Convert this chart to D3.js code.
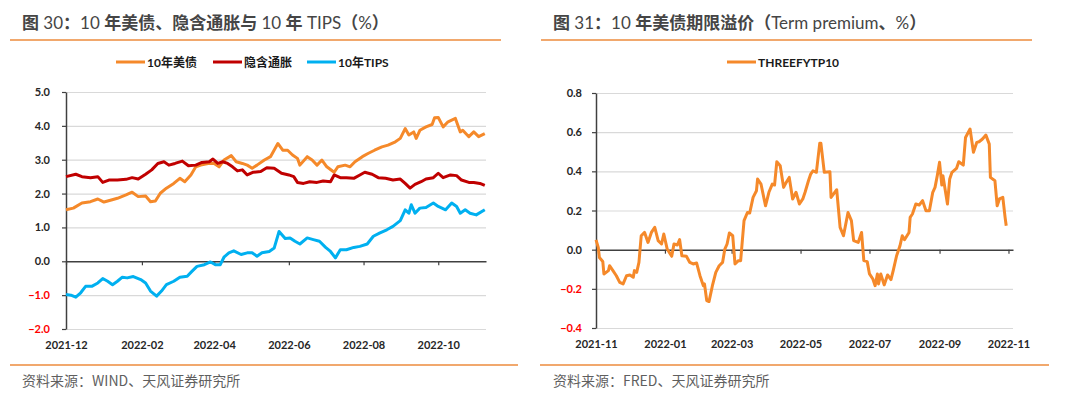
<!DOCTYPE html>
<html>
<head>
<meta charset="utf-8">
<script src="https://cdn.jsdelivr.net/npm/d3@7"></script>
<style>
    html, body { margin: 0; padding: 0; background: #fff; }
    svg { display: block; }
    .title { font-family: Lato, "Noto Sans CJK SC", sans-serif; font-size: 17px; fill: #454545; }
    .title .cjk { font-family: "Noto Sans CJK SC", sans-serif; font-weight: bold; }
    .source { font-family: "Noto Sans CJK SC", sans-serif; font-size: 14px; fill: #5f5f5f; }
    .legend { font-family: Lato, "Noto Sans CJK SC", sans-serif; font-size: 12px; font-weight: bold; fill: #1a1a1a; }
    .axis text { font-family: Lato, "Noto Sans", sans-serif; font-size: 11px; font-weight: bold; fill: #262626; }
</style>
</head>
<body>
<svg id="chart" width="1080" height="398"></svg>
<script>
// ---- data ----
var nominal10y = [
    ["2021-12-01",1.52],["2021-12-07",1.57],["2021-12-14",1.72],["2021-12-21",1.76],["2021-12-27",1.84],
    ["2022-01-01",1.75],["2022-01-07",1.81],["2022-01-12",1.86],["2022-01-19",1.96],["2022-01-24",2.04],
    ["2022-01-29",1.91],["2022-02-04",1.93],["2022-02-08",1.76],["2022-02-12",1.78],["2022-02-16",2.01],
    ["2022-02-21",2.16],["2022-02-27",2.30],["2022-03-04",2.45],["2022-03-08",2.35],["2022-03-13",2.55],
    ["2022-03-17",2.79],["2022-03-21",2.84],["2022-03-27",2.89],["2022-04-01",2.89],["2022-04-05",2.79],
    ["2022-04-09",2.99],["2022-04-15",3.12],["2022-04-19",2.94],["2022-04-24",2.89],["2022-04-28",2.84],
    ["2022-05-02",2.75],["2022-05-06",2.84],["2022-05-12",2.99],["2022-05-17",3.09],["2022-05-23",3.48],
    ["2022-05-27",3.28],["2022-05-31",3.28],["2022-06-04",3.14],["2022-06-08",3.04],["2022-06-10",2.84],
    ["2022-06-16",3.09],["2022-06-20",2.99],["2022-06-24",2.84],["2022-06-28",2.99],["2022-07-02",2.79],
    ["2022-07-08",2.63],["2022-07-11",2.79],["2022-07-17",2.84],["2022-07-21",2.79],["2022-07-25",2.94],
    ["2022-07-31",3.09],["2022-08-05",3.19],["2022-08-10",3.28],["2022-08-16",3.38],["2022-08-21",3.43],
    ["2022-08-27",3.53],["2022-08-31",3.63],["2022-09-04",3.92],["2022-09-07",3.73],["2022-09-11",3.82],
    ["2022-09-13",3.63],["2022-09-16",3.87],["2022-09-21",3.97],["2022-09-26",4.04],["2022-09-28",4.24],
    ["2022-10-01",4.25],["2022-10-05",3.97],["2022-10-09",4.12],["2022-10-15",4.22],["2022-10-19",3.82],
    ["2022-10-21",3.87],["2022-10-26",3.68],["2022-10-30",3.82],["2022-11-03",3.68],["2022-11-08",3.77]
];
var breakeven10y = [
    ["2021-12-01",2.50],["2021-12-09",2.57],["2021-12-14",2.50],["2021-12-21",2.47],["2021-12-27",2.50],
    ["2021-12-31",2.33],["2022-01-05",2.40],["2022-01-12",2.40],["2022-01-19",2.42],["2022-01-24",2.47],
    ["2022-01-29",2.43],["2022-02-04",2.57],["2022-02-09",2.70],["2022-02-14",2.89],["2022-02-19",2.94],
    ["2022-02-23",2.84],["2022-02-28",2.89],["2022-03-06",2.96],["2022-03-11",2.82],["2022-03-17",2.84],
    ["2022-03-22",2.92],["2022-03-28",2.94],["2022-03-31",3.02],["2022-04-04",2.89],["2022-04-08",2.94],
    ["2022-04-12",2.89],["2022-04-16",2.79],["2022-04-20",2.67],["2022-04-24",2.70],["2022-04-28",2.55],
    ["2022-05-03",2.63],["2022-05-09",2.65],["2022-05-14",2.76],["2022-05-20",2.75],["2022-05-26",2.60],
    ["2022-06-01",2.55],["2022-06-05",2.50],["2022-06-08",2.33],["2022-06-13",2.30],["2022-06-18",2.35],
    ["2022-06-24",2.33],["2022-06-29",2.37],["2022-07-05",2.35],["2022-07-08",2.55],["2022-07-13",2.47],
    ["2022-07-18",2.47],["2022-07-24",2.45],["2022-07-29",2.55],["2022-08-02",2.63],["2022-08-08",2.57],
    ["2022-08-13",2.47],["2022-08-19",2.45],["2022-08-25",2.40],["2022-08-31",2.43],["2022-09-04",2.30],
    ["2022-09-08",2.16],["2022-09-12",2.27],["2022-09-17",2.35],["2022-09-21",2.43],["2022-09-27",2.47],
    ["2022-10-01",2.60],["2022-10-05",2.47],["2022-10-11",2.55],["2022-10-16",2.53],["2022-10-20",2.40],
    ["2022-10-26",2.33],["2022-10-30",2.33],["2022-11-04",2.30],["2022-11-08",2.24]
];
var tips10y = [
    ["2021-12-01",-0.98],["2021-12-05",-1.00],["2021-12-09",-1.06],["2021-12-13",-0.93],["2021-12-17",-0.74],
    ["2021-12-22",-0.74],["2021-12-27",-0.64],["2021-12-31",-0.51],["2022-01-04",-0.59],["2022-01-08",-0.69],
    ["2022-01-12",-0.59],["2022-01-16",-0.47],["2022-01-20",-0.49],["2022-01-25",-0.45],["2022-01-31",-0.54],
    ["2022-02-04",-0.64],["2022-02-08",-0.88],["2022-02-13",-1.03],["2022-02-17",-0.88],["2022-02-21",-0.69],
    ["2022-02-27",-0.59],["2022-03-04",-0.47],["2022-03-10",-0.44],["2022-03-14",-0.29],["2022-03-18",-0.15],
    ["2022-03-24",-0.10],["2022-03-29",-0.02],["2022-04-02",-0.10],["2022-04-06",-0.10],["2022-04-09",0.12],
    ["2022-04-13",0.25],["2022-04-17",0.31],["2022-04-23",0.20],["2022-04-28",0.25],["2022-05-02",0.25],
    ["2022-05-06",0.15],["2022-05-10",0.25],["2022-05-16",0.29],["2022-05-20",0.39],["2022-05-24",0.88],
    ["2022-05-29",0.67],["2022-06-02",0.69],["2022-06-06",0.59],["2022-06-10",0.51],["2022-06-16",0.69],
    ["2022-06-21",0.64],["2022-06-26",0.59],["2022-07-01",0.41],["2022-07-05",0.29],["2022-07-09",0.10],
    ["2022-07-13",0.34],["2022-07-18",0.34],["2022-07-24",0.41],["2022-07-29",0.44],["2022-08-04",0.51],
    ["2022-08-09",0.74],["2022-08-14",0.83],["2022-08-20",0.93],["2022-08-25",1.03],["2022-08-31",1.20],
    ["2022-09-04",1.52],["2022-09-07",1.42],["2022-09-09",1.67],["2022-09-12",1.42],["2022-09-16",1.57],
    ["2022-09-21",1.59],["2022-09-27",1.72],["2022-10-01",1.62],["2022-10-07",1.52],["2022-10-12",1.72],
    ["2022-10-16",1.62],["2022-10-19",1.42],["2022-10-23",1.52],["2022-10-27",1.42],["2022-11-01",1.37],
    ["2022-11-08",1.52]
];
var termPremium = [
    ["2021-11-01",0.05],["2021-11-03",0.012],["2021-11-04",-0.04],["2021-11-07",-0.06],["2021-11-08",-0.124],
    ["2021-11-12",-0.107],["2021-11-13",-0.082],["2021-11-16",-0.107],["2021-11-19",-0.133],["2021-11-22",-0.167],
    ["2021-11-25",-0.175],["2021-11-28",-0.133],["2021-12-01",-0.129],["2021-12-04",-0.141],["2021-12-05",-0.107],
    ["2021-12-07",-0.116],["2021-12-09",-0.065],["2021-12-11",0.071],["2021-12-14",0.088],["2021-12-17",0.037],
    ["2021-12-20",0.088],["2021-12-23",0.114],["2021-12-26",0.046],["2021-12-29",0.029],["2021-12-31",0.080],
    ["2022-01-03",0.003],["2022-01-07",-0.034],["2022-01-09",0.029],["2022-01-12",0.024],["2022-01-14",0.051],
    ["2022-01-16",-0.031],["2022-01-20",-0.034],["2022-01-23",-0.065],["2022-01-26",-0.073],["2022-01-29",-0.068],
    ["2022-02-01",-0.133],["2022-02-04",-0.184],["2022-02-05",-0.175],["2022-02-07",-0.260],["2022-02-09",-0.265],
    ["2022-02-12",-0.184],["2022-02-15",-0.116],["2022-02-18",-0.082],["2022-02-21",-0.065],["2022-02-23",0.003],
    ["2022-02-25",0.029],["2022-02-27",0.085],["2022-03-02",0.071],["2022-03-04",-0.073],["2022-03-07",-0.056],
    ["2022-03-09",-0.056],["2022-03-12",0.148],["2022-03-15",0.190],["2022-03-17",0.187],["2022-03-20",0.267],
    ["2022-03-23",0.301],["2022-03-24",0.361],["2022-03-27",0.335],["2022-03-31",0.224],["2022-04-03",0.293],
    ["2022-04-06",0.335],["2022-04-08",0.330],["2022-04-10",0.449],["2022-04-13",0.429],["2022-04-16",0.318],
    ["2022-04-18",0.340],["2022-04-21",0.369],["2022-04-24",0.259],["2022-04-27",0.293],["2022-04-30",0.233],
    ["2022-05-03",0.259],["2022-05-05",0.293],["2022-05-08",0.352],["2022-05-10",0.386],["2022-05-12",0.403],
    ["2022-05-15",0.395],["2022-05-18",0.544],["2022-05-19",0.544],["2022-05-22",0.395],["2022-05-27",0.398],
    ["2022-05-28",0.267],["2022-06-02",0.306],["2022-06-05",0.114],["2022-06-08",0.071],["2022-06-12",0.190],
    ["2022-06-15",0.148],["2022-06-17",0.046],["2022-06-21",0.037],["2022-06-24",0.088],["2022-06-26",-0.056],
    ["2022-06-29",-0.061],["2022-07-01",-0.124],["2022-07-04",-0.150],["2022-07-06",-0.184],["2022-07-08",-0.124],
    ["2022-07-09",-0.175],["2022-07-11",-0.124],["2022-07-14",-0.180],["2022-07-17",-0.129],["2022-07-20",-0.153],
    ["2022-07-22",-0.107],["2022-07-25",-0.031],["2022-07-28",0.020],["2022-07-30",0.071],["2022-08-01",0.051],
    ["2022-08-05",0.088],["2022-08-06",0.165],["2022-08-08",0.182],["2022-08-11",0.233],["2022-08-14",0.228],
    ["2022-08-17",0.250],["2022-08-20",0.199],["2022-08-23",0.199],["2022-08-26",0.293],["2022-08-28",0.318],
    ["2022-08-30",0.378],["2022-09-01",0.446],["2022-09-03",0.330],["2022-09-04",0.378],["2022-09-08",0.233],
    ["2022-09-10",0.361],["2022-09-12",0.395],["2022-09-16",0.415],["2022-09-18",0.449],["2022-09-22",0.432],
    ["2022-09-24",0.573],["2022-09-28",0.616],["2022-10-01",0.497],["2022-10-04",0.548],["2022-10-06",0.551],
    ["2022-10-09",0.565],["2022-10-12",0.585],["2022-10-15",0.539],["2022-10-16",0.369],["2022-10-20",0.352],
    ["2022-10-22",0.224],["2022-10-24",0.259],["2022-10-27",0.267],["2022-10-29",0.165],["2022-10-30",0.122]
];

// tick labels
var leftTicksY = [-2, -1, 0, 1, 2, 3, 4, 5];
var leftTicksX = ["2021-12", "2022-02", "2022-04", "2022-06", "2022-08", "2022-10"];
var rightTicksY = [-0.4, -0.2, 0, 0.2, 0.4, 0.6, 0.8];
var rightTicksX = ["2021-11", "2022-01", "2022-03", "2022-05", "2022-07", "2022-09", "2022-11"];

var ORANGE = "#F5892A", RED = "#C00000", BLUE = "#00B0F0", RULE = "#ED8B3C";

var parseDay = d3.timeParse("%Y-%m-%d");
var parseMonth = d3.timeParse("%Y-%m");
var svg = d3.select("#chart");

/**
 * Writes a title, CJK runs in bold and latin runs in regular weight
 * @param g - parent selection
 * @param x - left of text
 * @param s - title string
 */
function drawTitle(g, x, s) {
    var t = g.append("text").attr("class", "title").attr("x", x).attr("y", 29);
    s.split(/([\u3000-\u9fff\uff00-\uffef]+)/).forEach(function (part) {
        if (!part) { return; }
        t.append("tspan")
            .attr("class", /[\u3000-\u9fff\uff00-\uffef]/.test(part) ? "cjk" : null)
            .text(part);
    });
}

/**
 * Draws one panel: title, rule lines, legend, axes, gridlines, series and source
 * @param cfg - panel settings
 */
function drawPanel(cfg) {
    var g = svg.append("g");

    // title and orange rules
    drawTitle(g, cfg.titleX, cfg.title);
    g.append("line").attr("x1", cfg.ruleTop[0]).attr("x2", cfg.ruleTop[1])
        .attr("y1", 40).attr("y2", 40).attr("stroke", RULE).attr("stroke-width", 1.5);
    g.append("line").attr("x1", cfg.ruleBottom[0]).attr("x2", cfg.ruleBottom[1])
        .attr("y1", 365).attr("y2", 365).attr("stroke", RULE).attr("stroke-width", 1.5);
    g.append("text").attr("class", "source").attr("x", cfg.titleX).attr("y", 386).text(cfg.source);

    var x = d3.scaleTime().domain(cfg.xDomain).range([cfg.left, cfg.right]);
    var y = d3.scaleLinear().domain(cfg.yDomain).range([cfg.bottom, cfg.top]);
    var width = cfg.right - cfg.left;
    var fmt = d3.format(".1f");

    // gridlines (zero line is drawn as the axis)
    g.append("g")
        .attr("transform", "translate(" + cfg.left + ",0)")
        .call(d3.axisLeft(y).tickValues(cfg.yTicks.filter(function (v) { return v !== 0; }))
            .tickSize(-width).tickFormat(""))
        .call(function (s) {
            s.select(".domain").remove();
            s.selectAll("line").attr("stroke", "#d9d9d9").attr("stroke-width", 1.2);
        });

    // y axis
    g.append("g")
        .attr("class", "axis")
        .attr("transform", "translate(" + cfg.left + ",0)")
        .call(d3.axisLeft(y).tickValues(cfg.yTicks).tickSize(4).tickPadding(cfg.yPad).tickSizeOuter(0)
            .tickFormat(fmt))
        .call(function (s) {
            s.select(".domain").attr("stroke", "#404040").attr("stroke-width", 1.5);
            s.selectAll("line").attr("stroke", "#404040").attr("stroke-width", 1.2);
            s.selectAll("text").style("fill", function (v) { return v < 0 ? "#FF0000" : "#262626"; });
        });

    var monthTicks = cfg.xTicks.map(parseMonth);

    // zero axis with month ticks
    g.append("g")
        .attr("class", "axis")
        .attr("transform", "translate(0," + y(0) + ")")
        .call(d3.axisBottom(x).tickValues(monthTicks).tickSize(4).tickSizeOuter(0).tickFormat(""))
        .call(function (s) {
            s.select(".domain").attr("stroke", "#404040").attr("stroke-width", 1.5);
            s.selectAll("line").attr("stroke", "#404040").attr("stroke-width", 1.2);
        });

    // month labels at the bottom
    g.append("g")
        .attr("class", "axis")
        .attr("transform", "translate(0," + cfg.bottom + ")")
        .call(d3.axisBottom(x).tickValues(monthTicks).tickSize(0).tickPadding(12)
            .tickFormat(d3.timeFormat("%Y-%m")))
        .call(function (s) {
            s.select(".domain").remove();
        });

    // series
    var line = d3.line()
        .x(function (d) { return x(parseDay(d[0])); })
        .y(function (d) { return y(d[1]); });
    cfg.series.forEach(function (sr) {
        g.append("path")
            .datum(sr.values)
            .attr("fill", "none")
            .attr("stroke", sr.color)
            .attr("stroke-width", 3)
            .attr("stroke-linejoin", "round")
            .attr("d", line);
    });

    // legend
    var lg = g.append("g").attr("transform", "translate(0,62)");
    cfg.series.forEach(function (sr) {
        lg.append("line").attr("x1", sr.legendX).attr("x2", sr.legendX + 29)
            .attr("stroke", sr.color).attr("stroke-width", 3);
        lg.append("text").attr("class", "legend").attr("x", sr.legendX + 31).attr("y", 4.5).text(sr.name);
    });
}

drawPanel({
    title: "图 30：10 年美债、隐含通胀与 10 年 TIPS（%）",
    source: "资料来源：WIND、天风证券研究所",
    titleX: 22,
    ruleTop: [10, 501],
    ruleBottom: [10, 518],
    left: 66, right: 486, top: 92, bottom: 329,
    xDomain: [parseDay("2021-12-01"), parseDay("2022-11-09")],
    yDomain: [-2, 5],
    yTicks: leftTicksY,
    xTicks: leftTicksX,
    yPad: 12,
    series: [
        {name: "10年美债", values: nominal10y, color: ORANGE, legendX: 116},
        {name: "隐含通胀", values: breakeven10y, color: RED, legendX: 213},
        {name: "10年TIPS", values: tips10y, color: BLUE, legendX: 307}
    ]
});

drawPanel({
    title: "图 31：10 年美债期限溢价（Term premium、%）",
    source: "资料来源：FRED、天风证券研究所",
    titleX: 553,
    ruleTop: [541, 1032],
    ruleBottom: [540, 1049],
    left: 596, right: 1013, top: 93, bottom: 328,
    xDomain: [parseDay("2021-11-01"), parseDay("2022-11-05")],
    yDomain: [-0.4, 0.8],
    yTicks: rightTicksY,
    xTicks: rightTicksX,
    yPad: 10,
    series: [
        {name: "THREEFYTP10", values: termPremium, color: ORANGE, legendX: 727}
    ]
});
</script>
</body>
</html>
